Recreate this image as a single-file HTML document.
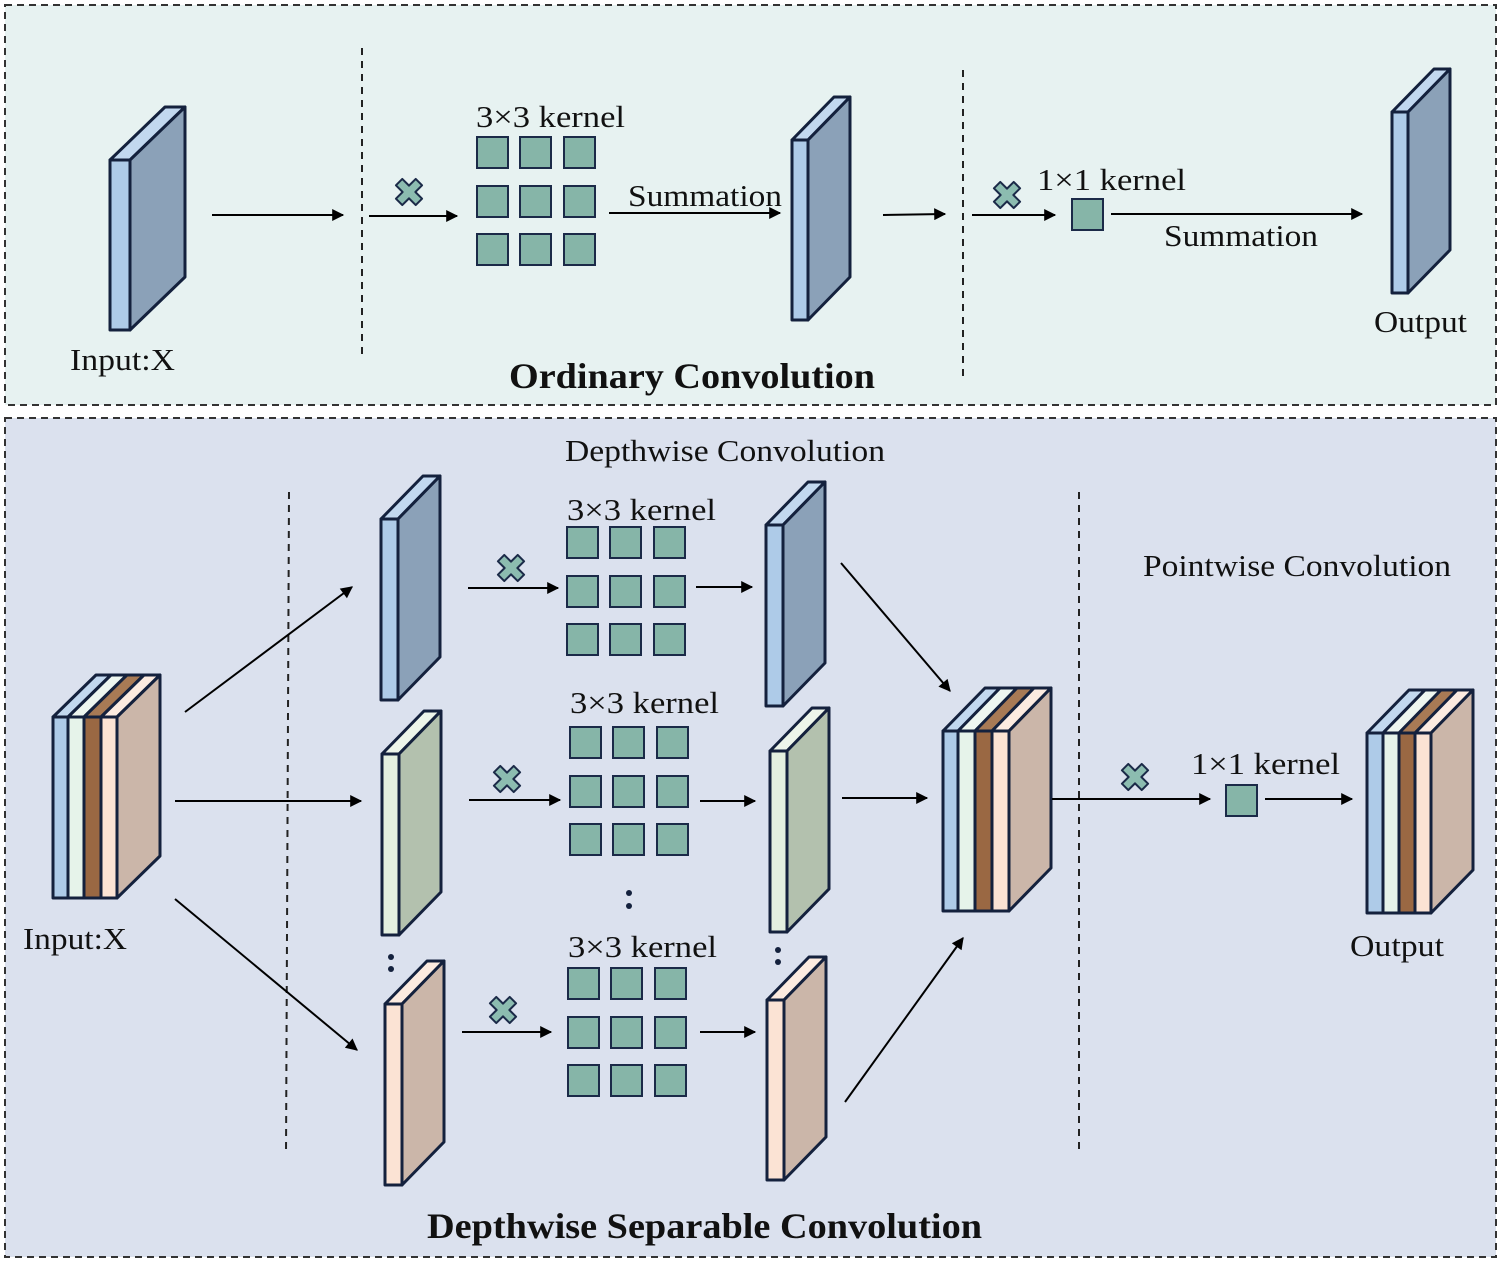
<!DOCTYPE html>
<html><head><meta charset="utf-8"><style>
html,body{margin:0;padding:0;background:#fff}
svg{display:block}
text{font-family:"Liberation Serif",serif;fill:#111}
</style></head><body>
<svg width="1505" height="1265" viewBox="0 0 1505 1265" xmlns="http://www.w3.org/2000/svg">
<defs>
<marker id="ar" viewBox="0 0 10 10" refX="9" refY="5" markerWidth="14" markerHeight="12" markerUnits="userSpaceOnUse" orient="auto"><path d="M0,0 L10,5 L0,10 z" fill="#000"/></marker>
<g id="x"><polygon transform="rotate(45)" points="-4.5,-14 4.5,-14 4.5,-4.5 14,-4.5 14,4.5 4.5,4.5 4.5,14 -4.5,14 -4.5,4.5 -14,4.5 -14,-4.5 -4.5,-4.5" fill="#8cbcb0" stroke="#1b2a48" stroke-width="2" stroke-linejoin="round"/></g>
<rect id="k" width="31" height="31" fill="#86b5a8" stroke="#1b2a48" stroke-width="2"/>
<g id="k3"><use href="#k" x="0" y="0"/><use href="#k" x="43" y="0"/><use href="#k" x="87" y="0"/><use href="#k" x="0" y="49"/><use href="#k" x="43" y="49"/><use href="#k" x="87" y="49"/><use href="#k" x="0" y="97"/><use href="#k" x="43" y="97"/><use href="#k" x="87" y="97"/></g>
</defs>
<rect x="5" y="5" width="1491" height="400" fill="#e7f2f1" stroke="#333" stroke-width="2" stroke-dasharray="7,5"/>
<rect x="5" y="418" width="1491" height="839" fill="#dbe1ee" stroke="#333" stroke-width="2" stroke-dasharray="7,5"/>
<g stroke="#222" stroke-width="2" stroke-dasharray="7,6">
<line x1="362" y1="48" x2="362" y2="358"/><line x1="963" y1="70" x2="963" y2="380"/>
<line x1="289" y1="492" x2="286" y2="1155"/><line x1="1079" y1="492" x2="1079" y2="1155"/>
</g>
<g stroke="#14213d" stroke-width="3" stroke-linejoin="round">
<rect x="110" y="160" width="20" height="170" fill="#aecbe8"/><polygon points="110,160 165,107 185,107 130,160" fill="#c2d8ef"/><polygon points="130,160 185,107 185,277 130,330" fill="#8ba1b8"/>
<rect x="792" y="140" width="16" height="180" fill="#aecbe8"/><polygon points="792,140 834,97 850,97 808,140" fill="#c2d8ef"/><polygon points="808,140 850,97 850,277 808,320" fill="#8ba1b8"/>
<rect x="1392" y="112" width="16" height="181" fill="#aecbe8"/><polygon points="1392,112 1434,69 1450,69 1408,112" fill="#c2d8ef"/><polygon points="1408,112 1450,69 1450,250 1408,293" fill="#8ba1b8"/>
<rect x="381" y="519" width="17" height="181" fill="#aecbe8"/><polygon points="381,519 423,476 440,476 398,519" fill="#c2d8ef"/><polygon points="398,519 440,476 440,657 398,700" fill="#8ba1b8"/>
<rect x="382" y="754" width="17" height="181" fill="#e4f0e0"/><polygon points="382,754 424,711 441,711 399,754" fill="#edf5ea"/><polygon points="399,754 441,711 441,892 399,935" fill="#b3c1ae"/>
<rect x="385" y="1004" width="17" height="181" fill="#fbe3d4"/><polygon points="385,1004 427,961 444,961 402,1004" fill="#fcebe0"/><polygon points="402,1004 444,961 444,1142 402,1185" fill="#cbb6a9"/>
<rect x="766" y="525" width="17" height="181" fill="#aecbe8"/><polygon points="766,525 808,482 825,482 783,525" fill="#c2d8ef"/><polygon points="783,525 825,482 825,663 783,706" fill="#8ba1b8"/>
<rect x="770" y="751" width="17" height="181" fill="#e4f0e0"/><polygon points="770,751 812,708 829,708 787,751" fill="#edf5ea"/><polygon points="787,751 829,708 829,889 787,932" fill="#b3c1ae"/>
<rect x="767" y="1000" width="17" height="180" fill="#fbe3d4"/><polygon points="767,1000 809,957 826,957 784,1000" fill="#fcebe0"/><polygon points="784,1000 826,957 826,1137 784,1180" fill="#cbb6a9"/>
<polygon points="53,717 96,675 111,675 68,717" fill="#c2d8ef"/><rect x="53" y="717" width="15" height="181" fill="#aecbe8"/>
<polygon points="68,717 111,675 127,675 84,717" fill="#eef6f0"/><rect x="68" y="717" width="16" height="181" fill="#e6f3ea"/>
<polygon points="84,717 127,675 144,675 101,717" fill="#a87a55"/><rect x="84" y="717" width="17" height="181" fill="#9a6843"/>
<polygon points="101,717 144,675 160,675 117,717" fill="#fcebe0"/><rect x="101" y="717" width="16" height="181" fill="#fbe3d4"/>
<polygon points="117,717 160,675 160,856 117,898" fill="#cbb6a9"/>
<polygon points="943,731 985,688 1000,688 958,731" fill="#c2d8ef"/><rect x="943" y="731" width="15" height="180" fill="#aecbe8"/>
<polygon points="958,731 1000,688 1017,688 975,731" fill="#eef6f0"/><rect x="958" y="731" width="17" height="180" fill="#e6f3ea"/>
<polygon points="975,731 1017,688 1034,688 992,731" fill="#a87a55"/><rect x="975" y="731" width="17" height="180" fill="#9a6843"/>
<polygon points="992,731 1034,688 1051,688 1009,731" fill="#fcebe0"/><rect x="992" y="731" width="17" height="180" fill="#fbe3d4"/>
<polygon points="1009,731 1051,688 1051,868 1009,911" fill="#cbb6a9"/>
<polygon points="1367,733 1409,690 1425,690 1383,733" fill="#c2d8ef"/><rect x="1367" y="733" width="16" height="180" fill="#aecbe8"/>
<polygon points="1383,733 1425,690 1441,690 1399,733" fill="#eef6f0"/><rect x="1383" y="733" width="16" height="180" fill="#e6f3ea"/>
<polygon points="1399,733 1441,690 1457,690 1415,733" fill="#a87a55"/><rect x="1399" y="733" width="16" height="180" fill="#9a6843"/>
<polygon points="1415,733 1457,690 1473,690 1431,733" fill="#fcebe0"/><rect x="1415" y="733" width="16" height="180" fill="#fbe3d4"/>
<polygon points="1431,733 1473,690 1473,870 1431,913" fill="#cbb6a9"/>
</g>
<use href="#k3" x="477" y="137"/>
<use href="#k3" x="567" y="527"/>
<use href="#k3" x="570" y="727"/>
<use href="#k3" x="568" y="968"/>
<use href="#k" x="1072" y="199"/>
<use href="#k" x="1226" y="785"/>
<use href="#x" x="409" y="192"/><use href="#x" x="1007" y="195"/>
<use href="#x" x="511" y="568"/><use href="#x" x="507" y="779"/><use href="#x" x="503" y="1010"/><use href="#x" x="1135" y="777"/>
<g stroke="#000" stroke-width="2" marker-end="url(#ar)">
<line x1="212" y1="215" x2="343" y2="215"/><line x1="369" y1="216" x2="457" y2="216"/>
<line x1="609" y1="213" x2="780" y2="213"/><line x1="883" y1="215" x2="945" y2="214"/>
<line x1="972" y1="215" x2="1055" y2="215"/><line x1="1111" y1="214" x2="1362" y2="214"/>
<line x1="185" y1="712" x2="352" y2="587"/><line x1="175" y1="801" x2="361" y2="801"/><line x1="175" y1="899" x2="357" y2="1050"/>
<line x1="468" y1="588" x2="558" y2="588"/><line x1="696" y1="587" x2="752" y2="587"/>
<line x1="469" y1="800" x2="560" y2="800"/><line x1="700" y1="801" x2="755" y2="801"/>
<line x1="462" y1="1032" x2="551" y2="1032"/><line x1="700" y1="1032" x2="755" y2="1032"/>
<line x1="841" y1="563" x2="950" y2="691"/><line x1="842" y1="798" x2="927" y2="798"/><line x1="845" y1="1102" x2="963" y2="938"/>
<line x1="1052" y1="799" x2="1210" y2="799"/><line x1="1265" y1="799" x2="1352" y2="799"/>
</g>
<g fill="#14213d"><circle cx="629" cy="893" r="3"/><circle cx="629" cy="906" r="3"/><circle cx="391" cy="957" r="3"/><circle cx="391" cy="969" r="3"/><circle cx="778" cy="950" r="3"/><circle cx="778" cy="962" r="3"/></g>
<g font-size="31" lengthAdjust="spacingAndGlyphs">
<text x="476" y="127" textLength="149" lengthAdjust="spacingAndGlyphs">3×3 kernel</text>
<text x="628" y="206" textLength="154" lengthAdjust="spacingAndGlyphs">Summation</text>
<text x="1037" y="190" textLength="149" lengthAdjust="spacingAndGlyphs">1×1 kernel</text>
<text x="1164" y="246" textLength="154" lengthAdjust="spacingAndGlyphs">Summation</text>
<text x="1374" y="332" textLength="93" lengthAdjust="spacingAndGlyphs">Output</text>
<text x="70" y="370" textLength="105" lengthAdjust="spacingAndGlyphs">Input:X</text>
<text x="565" y="461" textLength="320" lengthAdjust="spacingAndGlyphs">Depthwise Convolution</text>
<text x="1143" y="576" textLength="308" lengthAdjust="spacingAndGlyphs">Pointwise Convolution</text>
<text x="567" y="520" textLength="149" lengthAdjust="spacingAndGlyphs">3×3 kernel</text>
<text x="570" y="713" textLength="149" lengthAdjust="spacingAndGlyphs">3×3 kernel</text>
<text x="568" y="957" textLength="149" lengthAdjust="spacingAndGlyphs">3×3 kernel</text>
<text x="1191" y="774" textLength="149" lengthAdjust="spacingAndGlyphs">1×1 kernel</text>
<text x="23" y="949" textLength="104" lengthAdjust="spacingAndGlyphs">Input:X</text>
<text x="1350" y="956" textLength="94" lengthAdjust="spacingAndGlyphs">Output</text>
</g>
<text x="509" y="388" font-size="36" font-weight="bold" textLength="366" lengthAdjust="spacingAndGlyphs">Ordinary Convolution</text>
<text x="427" y="1238" font-size="36" font-weight="bold" textLength="555" lengthAdjust="spacingAndGlyphs">Depthwise Separable Convolution</text>
</svg>
</body></html>
